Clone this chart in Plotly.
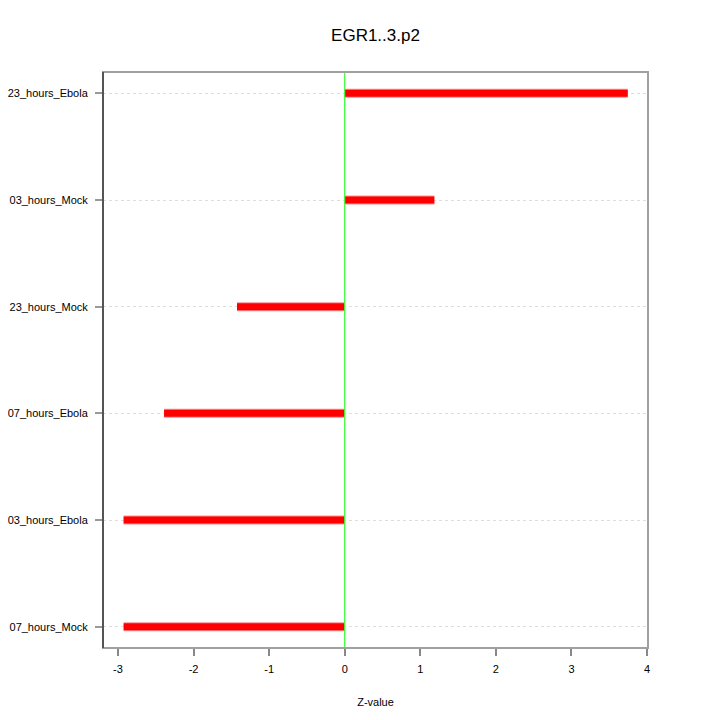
import plotly.graph_objects as go

# categories from bottom to top
conditions = ["07_hours_Mock", "03_hours_Ebola", "07_hours_Ebola",
              "23_hours_Mock", "03_hours_Mock", "23_hours_Ebola"]
z_values = [-2.925, -2.925, -2.39, -1.425, 1.186, 3.745]
x_ticks = [-3, -2, -1, 0, 1, 2, 3, 4]
x_tick_labels = ["-3", "-2", "-1", "0", "1", "2", "3", "4"]

font = "Liberation Sans, Arial, sans-serif"

fig = go.Figure()

# each bar drawn as a thick horizontal segment from 0 to the z-value
xs, ys = [], []
for cond, z in zip(conditions, z_values):
    xs += [0, z, None]
    ys += [cond, cond, None]

# light outline underneath, then the solid red
fig.add_trace(go.Scatter(x=xs, y=ys, mode="lines",
                         line=dict(color="#ff9090", width=9),
                         hoverinfo="skip", showlegend=False))
fig.add_trace(go.Scatter(x=xs, y=ys, mode="lines",
                         line=dict(color="#ff0000", width=7),
                         showlegend=False))

# green reference line at zero
fig.add_shape(type="line", x0=0, x1=0, y0=0, y1=1, yref="paper",
              line=dict(color="#33ff33", width=1.2), layer="above")

# plot frame
fig.add_shape(type="rect", x0=0, x1=1, y0=0, y1=1, xref="paper", yref="paper",
              line=dict(color="#a0a0a0", width=2), layer="above")
fig.add_shape(type="line", x0=0, x1=0, y0=0, y1=1, xref="paper", yref="paper",
              line=dict(color="#222222", width=1.2), layer="above")

# page body adds an 8px offset, so margins are shifted to compensate
fig.update_layout(
    width=720, height=720,
    margin=dict(l=95, r=80, t=64, b=80),
    paper_bgcolor="white", plot_bgcolor="white",
    font=dict(family=font, size=11, color="black"),
    title=dict(text="EGR1..3.p2", x=(95 + 545 / 2) / 720, xanchor="center",
               y=0.9625, yanchor="middle",
               font=dict(size=17, family=font)),
    xaxis=dict(range=[-3.198, 4.013], tickvals=x_ticks, ticktext=x_tick_labels,
               ticks="outside", ticklen=7, tickwidth=2, tickcolor="#888888",
               showgrid=False, zeroline=False, showline=False, automargin=False,
               ticklabelstandoff=4,
               title=dict(text="Z-value", standoff=24, font=dict(size=11))),
    yaxis=dict(type="category", categoryorder="array", categoryarray=conditions,
               range=[-0.2, 5.2], ticks="outside", ticklen=7, tickwidth=2,
               tickcolor="#999999", showgrid=True, gridcolor="#dddddd",
               griddash="dot", gridwidth=1, zeroline=False, showline=False,
               automargin=False, ticklabelstandoff=5),
)

fig.write_html("out.html")
